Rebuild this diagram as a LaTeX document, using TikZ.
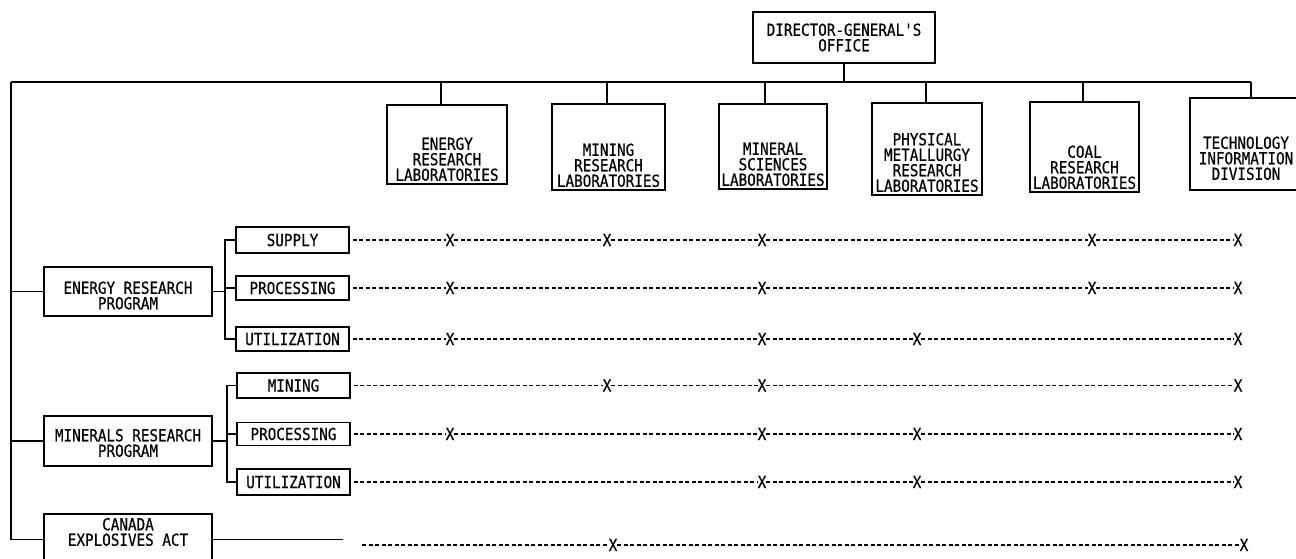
\documentclass[tikz,border=0pt]{standalone}
\usepackage{fontspec}
\newfontfamily\chartfont[FakeStretch=0.865,FakeBold=0.6]{DejaVu Sans Mono}
\newcommand{\chartsize}{\chartfont\fontsize{16.5}{15.5}\selectfont}
\begin{document}
\begin{tikzpicture}[x=1pt,y=-1pt,line width=1.2pt,
  box/.style={draw,inner sep=0pt,font=\chartsize,align=center},
  txt/.style={inner sep=0pt,font=\chartsize,align=center},
  xm/.style={inner sep=0pt,outer sep=0pt,font=\chartsize},
  dashrow/.style={dash pattern=on 4pt off 2.5pt,line width=1.1pt}]
\useasboundingbox (0,0) rectangle (1296,559);
% top
\node[box,minimum width=182pt,minimum height=51pt] (dg) at (844,37.5) {DIRECTOR-GENERAL'S\\OFFICE};
\coordinate (busL) at (11,82);
\coordinate (busR) at (1251,82);
% laboratories
\node[box,minimum width=120pt,minimum height=79pt] (erl) at (447,144.5) {};
\node[txt,anchor=south] (erlt) at ([yshift=3pt]erl.south) {ENERGY\\RESEARCH\\LABORATORIES};
\node[box,minimum width=113pt,minimum height=86pt] (mrl) at (608.5,147) {};
\node[txt,anchor=south] (mrlt) at ([yshift=3pt]mrl.south) {MINING\\RESEARCH\\LABORATORIES};
\node[box,minimum width=108pt,minimum height=85pt] (msl) at (773,146.5) {};
\node[txt,anchor=south] (mslt) at ([yshift=3pt]msl.south) {MINERAL\\SCIENCES\\LABORATORIES};
\node[box,minimum width=110pt,minimum height=92pt] (pml) at (927,149) {};
\node[txt,anchor=south] (pmlt) at ([yshift=3pt]pml.south) {PHYSICAL\\METALLURGY\\RESEARCH\\LABORATORIES};
\node[box,minimum width=109pt,minimum height=90pt] (crl) at (1084.5,147) {};
\node[txt,anchor=south] (crlt) at ([yshift=3pt]crl.south) {COAL\\RESEARCH\\LABORATORIES};
\node[box,minimum width=112pt,minimum height=92pt] (tid) at (1246,144) {};
\node[txt,anchor=south] (tidt) at ([yshift=10pt]tid.south) {TECHNOLOGY\\INFORMATION\\DIVISION};
% bus
\draw (dg.south) -- (dg.south |- busL);
\draw (busR) -- (busL);
\draw ([xshift=-6pt]erl.north) -- ([xshift=-6pt]erl.north |- busL);
\draw ([xshift=-1.5pt]mrl.north) -- ([xshift=-1.5pt]mrl.north |- busL);
\draw ([xshift=-8pt]msl.north) -- ([xshift=-8pt]msl.north |- busL);
\draw ([xshift=-1pt]pml.north) -- ([xshift=-1pt]pml.north |- busL);
\draw ([xshift=-1.5pt]crl.north) -- ([xshift=-1.5pt]crl.north |- busL);
\draw ([xshift=5pt]tid.north) -- ([xshift=5pt]tid.north |- busL);
% programs
\node[box,minimum width=168pt,minimum height=49pt] (erp) at (128,291.5) {};
\node[txt] (erpt) at ([yshift=-4pt]erp.center) {ENERGY RESEARCH\\PROGRAM};
\node[box,minimum width=168pt,minimum height=50pt] (mrp) at (128,441) {};
\node[txt] (mrpt) at ([yshift=-2pt]mrp.center) {MINERALS RESEARCH\\PROGRAM};
\node[box,minimum width=168pt,minimum height=51pt] (cea) at (128,539.5) {};
\node[txt,anchor=north] (ceat) at ([yshift=-4pt]cea.north) {CANADA\\EXPLOSIVES ACT};
\draw (busL) -- (busL |- cea.west) -- (cea.west);
\draw (busL |- erp.west) -- (erp.west);
\draw (busL |- mrp.west) -- (mrp.west);
% sub boxes
\node[box,minimum width=113pt,minimum height=26pt] (sup) at (292.5,240) {SUPPLY};
\node[box,minimum width=113pt,minimum height=24pt] (pr1) at (292.5,288) {PROCESSING};
\node[box,minimum width=113pt,minimum height=24pt] (ut1) at (292.5,339) {UTILIZATION};
\node[box,minimum width=113pt,minimum height=25pt] (min) at (293.5,385.5) {MINING};
\node[box,minimum width=113pt,minimum height=23pt] (pr2) at (293.5,434) {PROCESSING};
\node[box,minimum width=113pt,minimum height=26pt] (ut2) at (293.5,482) {UTILIZATION};
\coordinate (eb) at (225,0);
\coordinate (mb) at (227,0);
\draw (sup.west) -- (sup.west -| eb) -- (ut1.west -| eb) -- (ut1.west);
\draw (pr1.west) -- (pr1.west -| eb);
\draw (erp.east) -- (erp.east -| eb);
\draw (min.west) -- (min.west -| mb) -- (ut2.west -| mb) -- (ut2.west);
\draw (pr2.west) -- (pr2.west -| mb);
\draw (mrp.east) -- (mrp.east -| mb);
% X marks
\node[xm] (a1) at (450,240) {X};
\node[xm] (a2) at (607,240) {X};
\node[xm] (a3) at (762,240) {X};
\node[xm] (a4) at (1092,240) {X};
\node[xm] (a5) at (1238,240) {X};
\node[xm] (b1) at (450,288) {X};
\node[xm] (b2) at (762,288) {X};
\node[xm] (b3) at (1092,288) {X};
\node[xm] (b4) at (1238,288) {X};
\node[xm] (c1) at (450,339) {X};
\node[xm] (c2) at (762,339) {X};
\node[xm] (c3) at (917,339) {X};
\node[xm] (c4) at (1238,339) {X};
\node[xm] (d1) at (607,385.5) {X};
\node[xm] (d2) at (762,385.5) {X};
\node[xm] (d3) at (1238,385.5) {X};
\node[xm] (e1) at (450,434) {X};
\node[xm] (e2) at (762,434) {X};
\node[xm] (e3) at (917,434) {X};
\node[xm] (e4) at (1238,434) {X};
\node[xm] (f1) at (762,482) {X};
\node[xm] (f2) at (917,482) {X};
\node[xm] (f3) at (1238,482) {X};
\node[xm] (g1) at (613,545) {X};
\node[xm] (g2) at (1244,545) {X};
\draw[dashrow] ([xshift=3pt]sup.east) -- (a1) -- (a2) -- (a3) -- (a4) -- (a5);
\draw[dashrow] ([xshift=3pt]pr1.east) -- (b1) -- (b2) -- (b3) -- (b4);
\draw[dashrow] ([xshift=3pt]ut1.east) -- (c1) -- (c2) -- (c3) -- (c4);
\draw[dashrow] ([xshift=3pt]min.east) -- (d1) -- (d2) -- (d3);
\draw[dashrow] ([xshift=3pt]pr2.east) -- (e1) -- (e2) -- (e3) -- (e4);
\draw[dashrow] ([xshift=3pt]ut2.east) -- (f1) -- (f2) -- (f3);
\coordinate (cend) at (343,541);
\coordinate (c0) at (362,545);
\draw (cea.east) -- (cea.east -| cend);
\draw[dashrow] (c0) -- (g1) -- (g2);
\end{tikzpicture}
\end{document}
